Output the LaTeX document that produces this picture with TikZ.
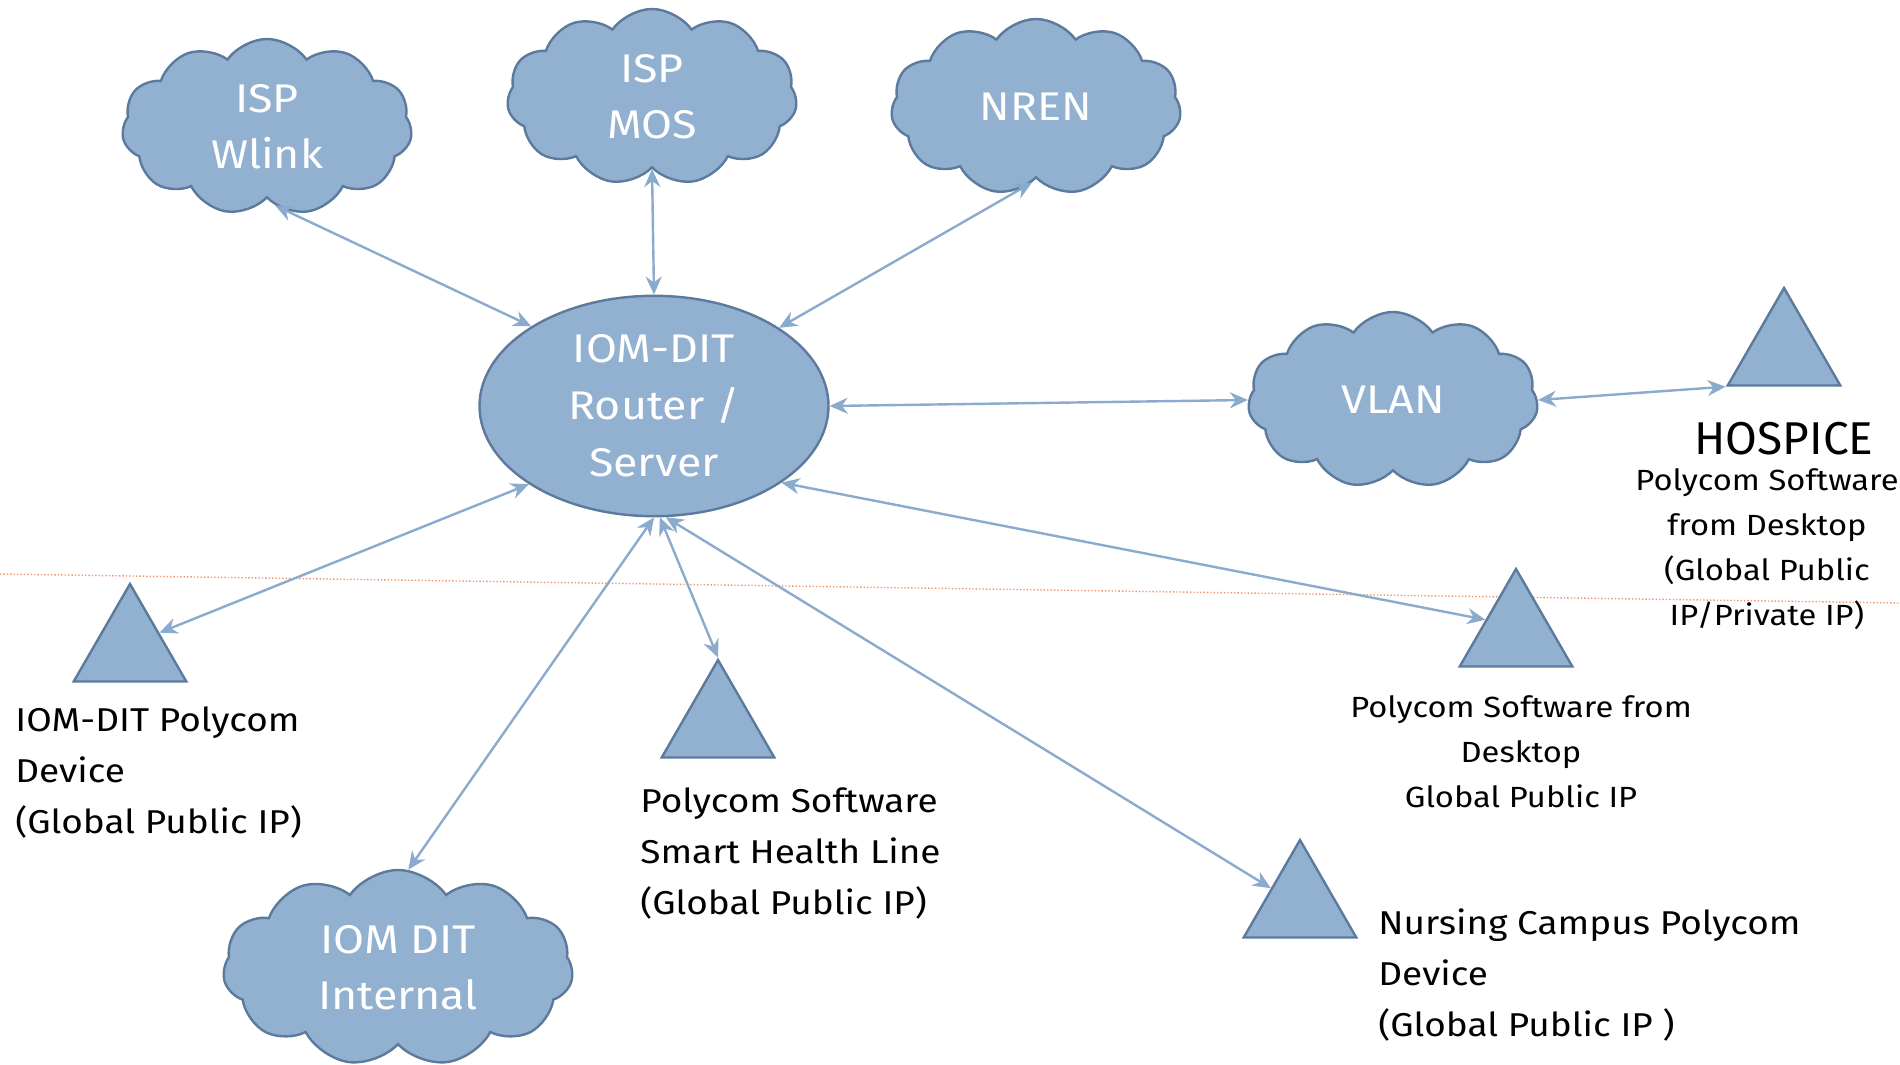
\documentclass[tikz,border=0pt]{standalone}
\usepackage{fontspec}
\setmainfont{Fira Sans}[FakeStretch=1.12]
\newfontfamily\titlefont{Fira Sans}
\usetikzlibrary{shapes.geometric,shapes.symbols,arrows.meta,positioning}
\definecolor{netfill}{RGB}{146,177,209}
\definecolor{netdraw}{RGB}{92,122,156}
\definecolor{netline}{RGB}{138,170,206}
\definecolor{sepline}{RGB}{240,150,105}
\tikzset{
  net/.style={draw=netdraw, fill=netfill, line width=1.2pt},
  netcloud/.style={net, cloud, cloud puffs=11, cloud puff arc=110, aspect=1.6,
    minimum width=145pt, minimum height=88pt, inner sep=0pt, text=white,
    align=center, font=\fontsize{20}{28}\selectfont},
  device/.style={net, regular polygon, regular polygon sides=3,
    minimum size=65pt, inner sep=0pt},
  lbl/.style={inner sep=0pt, font=\fontsize{16.5}{25.5}\selectfont},
  smalllbl/.style={inner sep=0pt, font=\fontsize{14.6}{22.5}\selectfont},
  link/.style={netline, line width=1.2pt,
    {Stealth[length=9pt,width=8pt]}-{Stealth[length=9pt,width=8pt]}}
}

\begin{document}
\begin{tikzpicture}[x=0.5pt, y=-0.5pt]
    \useasboundingbox (0,0) rectangle (1900,1065);
    % separator
    \coordinate (sepL) at (0,574);
    \coordinate (sepR) at (1900,603);
    \draw[sepline, densely dotted, line width=0.7pt] (sepL) -- (sepR);

    % core
    \node[net, ellipse, minimum width=174.5pt, minimum height=109pt, text=white,
          align=center, font=\fontsize{20}{28.5}\selectfont] (router) at (654,406)
          {IOM-DIT\\Router /\\Server};

    % clouds
    \node[netcloud] (wlink) at (267,127) {ISP\\Wlink};
    \node[netcloud] (mos) at (652,97) {ISP\\MOS};
    \node[netcloud] (nren) at (1036,107) {NREN};
    \node[netcloud] (vlan) at (1393,400) {VLAN};
    \node[netcloud, minimum width=175pt, minimum height=98pt] (internal) at (398,968)
          {IOM DIT\\Internal};

    % devices
    \node[device] (tLeft) at (130,649) {};
    \node[device] (tSmart) at (718,725) {};
    \node[device] (tDesk) at (1516,634) {};
    \node[device] (tNurse) at (1300,905) {};
    \node[device] (tHospice) at (1784,353) {};

    % labels
    \node[lbl, align=left, anchor=west] (lLeft) at (15,773)
          {IOM-DIT Polycom\\Device\\(Global Public IP)};
    \node[lbl, align=left, anchor=west] (lSmart) at (640,854)
          {Polycom Software\\Smart Health Line\\(Global Public IP)};
    \node[smalllbl, align=center] (lDesk) at (1521,752)
          {Polycom Software from\\Desktop\\Global Public IP};
    \node[lbl, align=left, anchor=west] (lNurse) at (1378,975)
          {Nursing Campus Polycom\\Device\\(Global Public IP )};
    \node[inner sep=0pt, font=\titlefont\fontsize{23}{28}\selectfont] (hosTitle)
          at (1784,439) {HOSPICE};
    \node[smalllbl, align=center] (hosText) at (1767,549)
          {Polycom Software\\from Desktop\\(Global Public\\IP/Private IP)};

    % links
    \draw[link] (wlink.-84) -- (router.147);
    \draw[link] (mos.south) -- (router.north);
    \draw[link] (nren.-93) -- (router.32);
    \draw[link] (router.east) -- (vlan.west);
    \draw[link] (vlan.east) -- (tHospice.corner 2);
    \draw[link] (router.212) -- (tLeft.29);
    \draw[link] (router.south) -- (internal.84);
    \draw[link] (router.-87) -- (tSmart.corner 1);
    \draw[link] (router.-84) -- (tNurse.150);
    \draw[link] (router.-31) -- (tDesk.155);
\end{tikzpicture}
\end{document}
